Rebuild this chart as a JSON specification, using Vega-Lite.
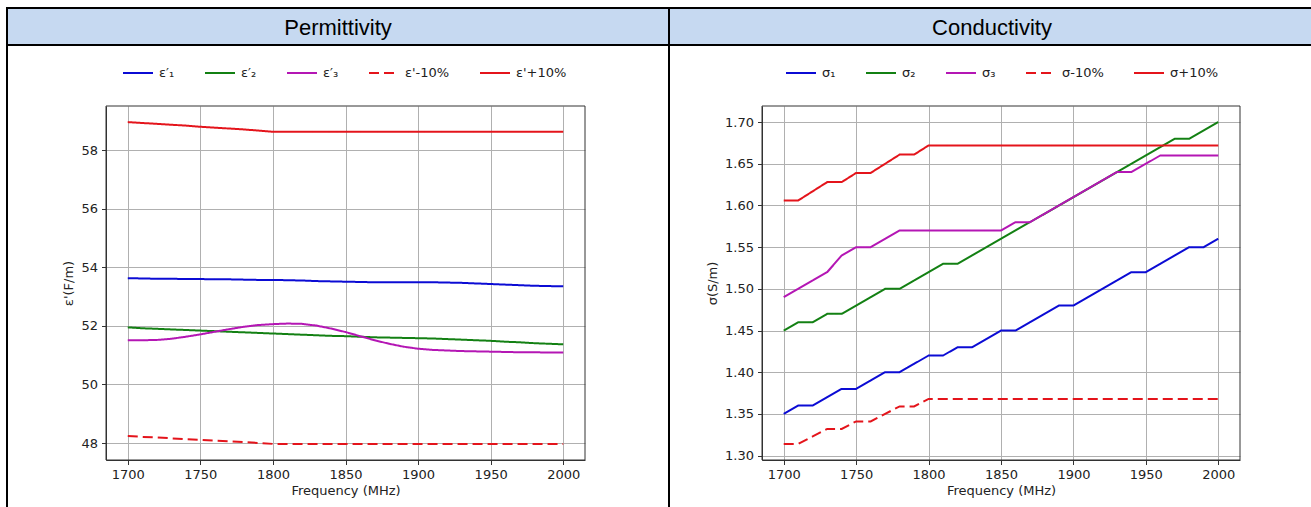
{
  "$schema": "https://vega.github.io/schema/vega-lite/v6.json",
  "padding": {"left": 6, "top": 7, "right": 0, "bottom": 0},
  "background": "white",
  "columns": 2,
  "spacing": 0,
  "align": "each",
  "bounds": "flush",
  "config": {
    "font": "DejaVu Sans",
    "axis": {"labelFont": "DejaVu Sans", "titleFont": "DejaVu Sans"},
    "legend": {"labelFont": "DejaVu Sans"}
  },
  "resolve": {
    "scale": {"x": "independent", "y": "independent", "color": "independent", "strokeDash": "independent"},
    "legend": {"color": "independent", "strokeDash": "independent"}
  },
  "concat": [
    {
      "width": 662,
      "height": 37,
      "view": {"fill": "#c6d9f1", "stroke": "black", "strokeWidth": 2},
      "data": {"values": [{"t": "Permittivity"}]},
      "mark": {"type": "text", "font": "Liberation Sans", "fontSize": 22, "color": "black", "dy": 1},
      "encoding": {"text": {"field": "t", "type": "nominal"}}
    },
    {
      "width": 700,
      "height": 37,
      "view": {"fill": "#c6d9f1", "stroke": "black", "strokeWidth": 2},
      "data": {"values": [{"t": "Conductivity"}]},
      "mark": {"type": "text", "font": "Liberation Sans", "fontSize": 22, "color": "black", "dx": -27, "dy": 1},
      "encoding": {"text": {"field": "t", "type": "nominal"}}
    },
    {
      "width": 662,
      "height": 476,
      "view": {"fill": "white", "stroke": "black", "strokeWidth": 2},
      "data": {"values": [
        {"f": 1700, "e1": 53.63, "e2": 51.95, "e3": 51.51, "lo": 48.24, "hi": 58.96},
        {"f": 1710, "e1": 53.62, "e2": 51.92, "e3": 51.51, "lo": 48.21, "hi": 58.93},
        {"f": 1720, "e1": 53.61, "e2": 51.90, "e3": 51.52, "lo": 48.19, "hi": 58.90},
        {"f": 1730, "e1": 53.61, "e2": 51.88, "e3": 51.56, "lo": 48.16, "hi": 58.87},
        {"f": 1740, "e1": 53.60, "e2": 51.86, "e3": 51.63, "lo": 48.13, "hi": 58.84},
        {"f": 1750, "e1": 53.60, "e2": 51.84, "e3": 51.71, "lo": 48.11, "hi": 58.80},
        {"f": 1760, "e1": 53.59, "e2": 51.82, "e3": 51.80, "lo": 48.08, "hi": 58.77},
        {"f": 1770, "e1": 53.59, "e2": 51.80, "e3": 51.89, "lo": 48.06, "hi": 58.74},
        {"f": 1780, "e1": 53.58, "e2": 51.78, "e3": 51.97, "lo": 48.03, "hi": 58.71},
        {"f": 1790, "e1": 53.57, "e2": 51.76, "e3": 52.03, "lo": 48.00, "hi": 58.67},
        {"f": 1800, "e1": 53.57, "e2": 51.74, "e3": 52.06, "lo": 47.97, "hi": 58.63},
        {"f": 1810, "e1": 53.56, "e2": 51.72, "e3": 52.08, "lo": 47.97, "hi": 58.63},
        {"f": 1820, "e1": 53.55, "e2": 51.70, "e3": 52.07, "lo": 47.97, "hi": 58.63},
        {"f": 1830, "e1": 53.53, "e2": 51.68, "e3": 52.01, "lo": 47.97, "hi": 58.63},
        {"f": 1840, "e1": 53.52, "e2": 51.66, "e3": 51.91, "lo": 47.97, "hi": 58.63},
        {"f": 1850, "e1": 53.51, "e2": 51.65, "e3": 51.79, "lo": 47.97, "hi": 58.63},
        {"f": 1860, "e1": 53.50, "e2": 51.63, "e3": 51.65, "lo": 47.97, "hi": 58.63},
        {"f": 1870, "e1": 53.49, "e2": 51.61, "e3": 51.51, "lo": 47.97, "hi": 58.63},
        {"f": 1880, "e1": 53.49, "e2": 51.60, "e3": 51.39, "lo": 47.97, "hi": 58.63},
        {"f": 1890, "e1": 53.49, "e2": 51.59, "e3": 51.29, "lo": 47.97, "hi": 58.63},
        {"f": 1900, "e1": 53.49, "e2": 51.58, "e3": 51.22, "lo": 47.97, "hi": 58.63},
        {"f": 1910, "e1": 53.49, "e2": 51.57, "e3": 51.18, "lo": 47.97, "hi": 58.63},
        {"f": 1920, "e1": 53.48, "e2": 51.55, "e3": 51.16, "lo": 47.97, "hi": 58.63},
        {"f": 1930, "e1": 53.47, "e2": 51.53, "e3": 51.14, "lo": 47.97, "hi": 58.63},
        {"f": 1940, "e1": 53.45, "e2": 51.51, "e3": 51.13, "lo": 47.97, "hi": 58.63},
        {"f": 1950, "e1": 53.43, "e2": 51.49, "e3": 51.12, "lo": 47.97, "hi": 58.63},
        {"f": 1960, "e1": 53.41, "e2": 51.46, "e3": 51.11, "lo": 47.97, "hi": 58.63},
        {"f": 1970, "e1": 53.39, "e2": 51.44, "e3": 51.10, "lo": 47.97, "hi": 58.63},
        {"f": 1980, "e1": 53.37, "e2": 51.41, "e3": 51.10, "lo": 47.97, "hi": 58.63},
        {"f": 1990, "e1": 53.36, "e2": 51.39, "e3": 51.09, "lo": 47.97, "hi": 58.63},
        {"f": 2000, "e1": 53.35, "e2": 51.37, "e3": 51.09, "lo": 47.97, "hi": 58.63}
      ]},
      "layer": [
        {
          "transform": [{"fold": ["e1", "e2", "e3", "lo", "hi"], "as": ["key", "value"]}],
          "mark": {"type": "line", "strokeWidth": 2},
          "encoding": {
            "x": {
              "field": "f", "type": "quantitative",
              "scale": {"domain": [1685, 2015], "range": [99, 578], "nice": false, "zero": false},
              "axis": {
                "orient": "bottom", "offset": -61,
                "values": [1700, 1750, 1800, 1850, 1900, 1950, 2000], "format": "d",
                "grid": true, "gridColor": "#b0b0b0", "gridWidth": 1,
                "domainColor": "#333333", "domainWidth": 1,
                "tickColor": "#333333", "tickSize": 4.5, "tickWidth": 1,
                "labelFontSize": 13, "labelColor": "#222222", "labelPadding": 3.5, "labelFlush": false, "labelOverlap": false,
                "title": "Frequency (MHz)", "titleFontSize": 13, "titleFontWeight": "normal", "titleColor": "#222222", "titlePadding": 3
              }
            },
            "y": {
              "field": "value", "type": "quantitative",
              "scale": {"domain": [47.42, 59.51], "range": [415, 61], "nice": false, "zero": false},
              "axis": {
                "orient": "left", "offset": -99,
                "values": [48, 50, 52, 54, 56, 58], "format": "d",
                "grid": true, "gridColor": "#b0b0b0", "gridWidth": 1,
                "domainColor": "#333333", "domainWidth": 1,
                "tickColor": "#333333", "tickSize": 4.5, "tickWidth": 1,
                "labelFontSize": 13, "labelColor": "#222222", "labelPadding": 4, "labelFlush": false, "labelOverlap": false,
                "title": "ε'(F/m)", "titleFontSize": 13, "titleFontWeight": "normal", "titleColor": "#222222", "titlePadding": 5
              }
            },
            "color": {
              "field": "key", "type": "nominal",
              "scale": {"domain": ["e1", "e2", "e3", "lo", "hi"], "range": ["#0b0bd4", "#138013", "#b416b4", "#e4141b", "#e4141b"]},
              "legend": {
                "title": null, "orient": "none", "legendX": 115, "legendY": 12, "direction": "horizontal", "columns": 5,
                "columnPadding": 26, "symbolType": "stroke", "symbolSize": 900, "symbolStrokeWidth": 2, "labelOffset": 5,
                "labelFontSize": 13, "labelColor": "#222222",
                "labelExpr": "datum.label == 'e1' ? 'ε′₁' : datum.label == 'e2' ? 'ε′₂' : datum.label == 'e3' ? 'ε′₃' : datum.label == 'lo' ? 'ε\\'-10%' : 'ε\\'+10%'"
              }
            },
            "strokeDash": {
              "field": "key", "type": "nominal",
              "scale": {"domain": ["e1", "e2", "e3", "lo", "hi"], "range": [[1, 0], [1, 0], [1, 0], [10, 5], [1, 0]]},
              "legend": {
                "title": null, "orient": "none", "legendX": 115, "legendY": 12, "direction": "horizontal", "columns": 5,
                "columnPadding": 26, "symbolType": "stroke", "symbolSize": 900, "symbolStrokeWidth": 2, "labelOffset": 5,
                "labelFontSize": 13, "labelColor": "#222222",
                "labelExpr": "datum.label == 'e1' ? 'ε′₁' : datum.label == 'e2' ? 'ε′₂' : datum.label == 'e3' ? 'ε′₃' : datum.label == 'lo' ? 'ε\\'-10%' : 'ε\\'+10%'"
              }
            }
          }
        },
        {
          "data": {"values": [{}]},
          "mark": {"type": "rect", "filled": false, "stroke": "#333333", "strokeWidth": 1},
          "encoding": {
            "x": {"datum": 1685, "type": "quantitative"},
            "x2": {"datum": 2015},
            "y": {"datum": 47.42, "type": "quantitative"},
            "y2": {"datum": 59.51}
          }
        }
      ]
    },
    {
      "width": 700,
      "height": 476,
      "view": {"fill": "white", "stroke": "black", "strokeWidth": 2},
      "data": {"values": [
        {"f": 1700, "s1": 1.35, "s2": 1.45, "s3": 1.49, "lo": 1.314, "hi": 1.606},
        {"f": 1710, "s1": 1.36, "s2": 1.46, "s3": 1.50, "lo": 1.314, "hi": 1.606},
        {"f": 1720, "s1": 1.36, "s2": 1.46, "s3": 1.51, "lo": 1.323, "hi": 1.617},
        {"f": 1730, "s1": 1.37, "s2": 1.47, "s3": 1.52, "lo": 1.332, "hi": 1.628},
        {"f": 1740, "s1": 1.38, "s2": 1.47, "s3": 1.54, "lo": 1.332, "hi": 1.628},
        {"f": 1750, "s1": 1.38, "s2": 1.48, "s3": 1.55, "lo": 1.341, "hi": 1.639},
        {"f": 1760, "s1": 1.39, "s2": 1.49, "s3": 1.55, "lo": 1.341, "hi": 1.639},
        {"f": 1770, "s1": 1.40, "s2": 1.50, "s3": 1.56, "lo": 1.350, "hi": 1.650},
        {"f": 1780, "s1": 1.40, "s2": 1.50, "s3": 1.57, "lo": 1.359, "hi": 1.661},
        {"f": 1790, "s1": 1.41, "s2": 1.51, "s3": 1.57, "lo": 1.359, "hi": 1.661},
        {"f": 1800, "s1": 1.42, "s2": 1.52, "s3": 1.57, "lo": 1.368, "hi": 1.672},
        {"f": 1810, "s1": 1.42, "s2": 1.53, "s3": 1.57, "lo": 1.368, "hi": 1.672},
        {"f": 1820, "s1": 1.43, "s2": 1.53, "s3": 1.57, "lo": 1.368, "hi": 1.672},
        {"f": 1830, "s1": 1.43, "s2": 1.54, "s3": 1.57, "lo": 1.368, "hi": 1.672},
        {"f": 1840, "s1": 1.44, "s2": 1.55, "s3": 1.57, "lo": 1.368, "hi": 1.672},
        {"f": 1850, "s1": 1.45, "s2": 1.56, "s3": 1.57, "lo": 1.368, "hi": 1.672},
        {"f": 1860, "s1": 1.45, "s2": 1.57, "s3": 1.58, "lo": 1.368, "hi": 1.672},
        {"f": 1870, "s1": 1.46, "s2": 1.58, "s3": 1.58, "lo": 1.368, "hi": 1.672},
        {"f": 1880, "s1": 1.47, "s2": 1.59, "s3": 1.59, "lo": 1.368, "hi": 1.672},
        {"f": 1890, "s1": 1.48, "s2": 1.60, "s3": 1.60, "lo": 1.368, "hi": 1.672},
        {"f": 1900, "s1": 1.48, "s2": 1.61, "s3": 1.61, "lo": 1.368, "hi": 1.672},
        {"f": 1910, "s1": 1.49, "s2": 1.62, "s3": 1.62, "lo": 1.368, "hi": 1.672},
        {"f": 1920, "s1": 1.50, "s2": 1.63, "s3": 1.63, "lo": 1.368, "hi": 1.672},
        {"f": 1930, "s1": 1.51, "s2": 1.64, "s3": 1.64, "lo": 1.368, "hi": 1.672},
        {"f": 1940, "s1": 1.52, "s2": 1.65, "s3": 1.64, "lo": 1.368, "hi": 1.672},
        {"f": 1950, "s1": 1.52, "s2": 1.66, "s3": 1.65, "lo": 1.368, "hi": 1.672},
        {"f": 1960, "s1": 1.53, "s2": 1.67, "s3": 1.66, "lo": 1.368, "hi": 1.672},
        {"f": 1970, "s1": 1.54, "s2": 1.68, "s3": 1.66, "lo": 1.368, "hi": 1.672},
        {"f": 1980, "s1": 1.55, "s2": 1.68, "s3": 1.66, "lo": 1.368, "hi": 1.672},
        {"f": 1990, "s1": 1.55, "s2": 1.69, "s3": 1.66, "lo": 1.368, "hi": 1.672},
        {"f": 2000, "s1": 1.56, "s2": 1.70, "s3": 1.66, "lo": 1.368, "hi": 1.672}
      ]},
      "layer": [
        {
          "transform": [{"fold": ["s1", "s2", "s3", "lo", "hi"], "as": ["key", "value"]}],
          "mark": {"type": "line", "strokeWidth": 2},
          "encoding": {
            "x": {
              "field": "f", "type": "quantitative",
              "scale": {"domain": [1685, 2015], "range": [93, 571], "nice": false, "zero": false},
              "axis": {
                "orient": "bottom", "offset": -61,
                "values": [1700, 1750, 1800, 1850, 1900, 1950, 2000], "format": "d",
                "grid": true, "gridColor": "#b0b0b0", "gridWidth": 1,
                "domainColor": "#333333", "domainWidth": 1,
                "tickColor": "#333333", "tickSize": 4.5, "tickWidth": 1,
                "labelFontSize": 13, "labelColor": "#222222", "labelPadding": 3.5, "labelFlush": false, "labelOverlap": false,
                "title": "Frequency (MHz)", "titleFontSize": 13, "titleFontWeight": "normal", "titleColor": "#222222", "titlePadding": 3
              }
            },
            "y": {
              "field": "value", "type": "quantitative",
              "scale": {"domain": [1.2947, 1.7193], "range": [415, 61], "nice": false, "zero": false},
              "axis": {
                "orient": "left", "offset": -93,
                "values": [1.30, 1.35, 1.40, 1.45, 1.50, 1.55, 1.60, 1.65, 1.70], "format": ".2f",
                "grid": true, "gridColor": "#b0b0b0", "gridWidth": 1,
                "domainColor": "#333333", "domainWidth": 1,
                "tickColor": "#333333", "tickSize": 4.5, "tickWidth": 1,
                "labelFontSize": 13, "labelColor": "#222222", "labelPadding": 4, "labelFlush": false, "labelOverlap": false,
                "title": "σ(S/m)", "titleFontSize": 13, "titleFontWeight": "normal", "titleColor": "#222222", "titlePadding": 5
              }
            },
            "color": {
              "field": "key", "type": "nominal",
              "scale": {"domain": ["s1", "s2", "s3", "lo", "hi"], "range": ["#0b0bd4", "#138013", "#b416b4", "#e4141b", "#e4141b"]},
              "legend": {
                "title": null, "orient": "none", "legendX": 116, "legendY": 12, "direction": "horizontal", "columns": 5,
                "columnPadding": 26, "symbolType": "stroke", "symbolSize": 900, "symbolStrokeWidth": 2, "labelOffset": 5,
                "labelFontSize": 13, "labelColor": "#222222",
                "labelExpr": "datum.label == 's1' ? 'σ₁' : datum.label == 's2' ? 'σ₂' : datum.label == 's3' ? 'σ₃' : datum.label == 'lo' ? 'σ-10%' : 'σ+10%'"
              }
            },
            "strokeDash": {
              "field": "key", "type": "nominal",
              "scale": {"domain": ["s1", "s2", "s3", "lo", "hi"], "range": [[1, 0], [1, 0], [1, 0], [10, 5], [1, 0]]},
              "legend": {
                "title": null, "orient": "none", "legendX": 116, "legendY": 12, "direction": "horizontal", "columns": 5,
                "columnPadding": 26, "symbolType": "stroke", "symbolSize": 900, "symbolStrokeWidth": 2, "labelOffset": 5,
                "labelFontSize": 13, "labelColor": "#222222",
                "labelExpr": "datum.label == 's1' ? 'σ₁' : datum.label == 's2' ? 'σ₂' : datum.label == 's3' ? 'σ₃' : datum.label == 'lo' ? 'σ-10%' : 'σ+10%'"
              }
            }
          }
        },
        {
          "data": {"values": [{}]},
          "mark": {"type": "rect", "filled": false, "stroke": "#333333", "strokeWidth": 1},
          "encoding": {
            "x": {"datum": 1685, "type": "quantitative"},
            "x2": {"datum": 2015},
            "y": {"datum": 1.2947, "type": "quantitative"},
            "y2": {"datum": 1.7193}
          }
        }
      ]
    }
  ]
}
